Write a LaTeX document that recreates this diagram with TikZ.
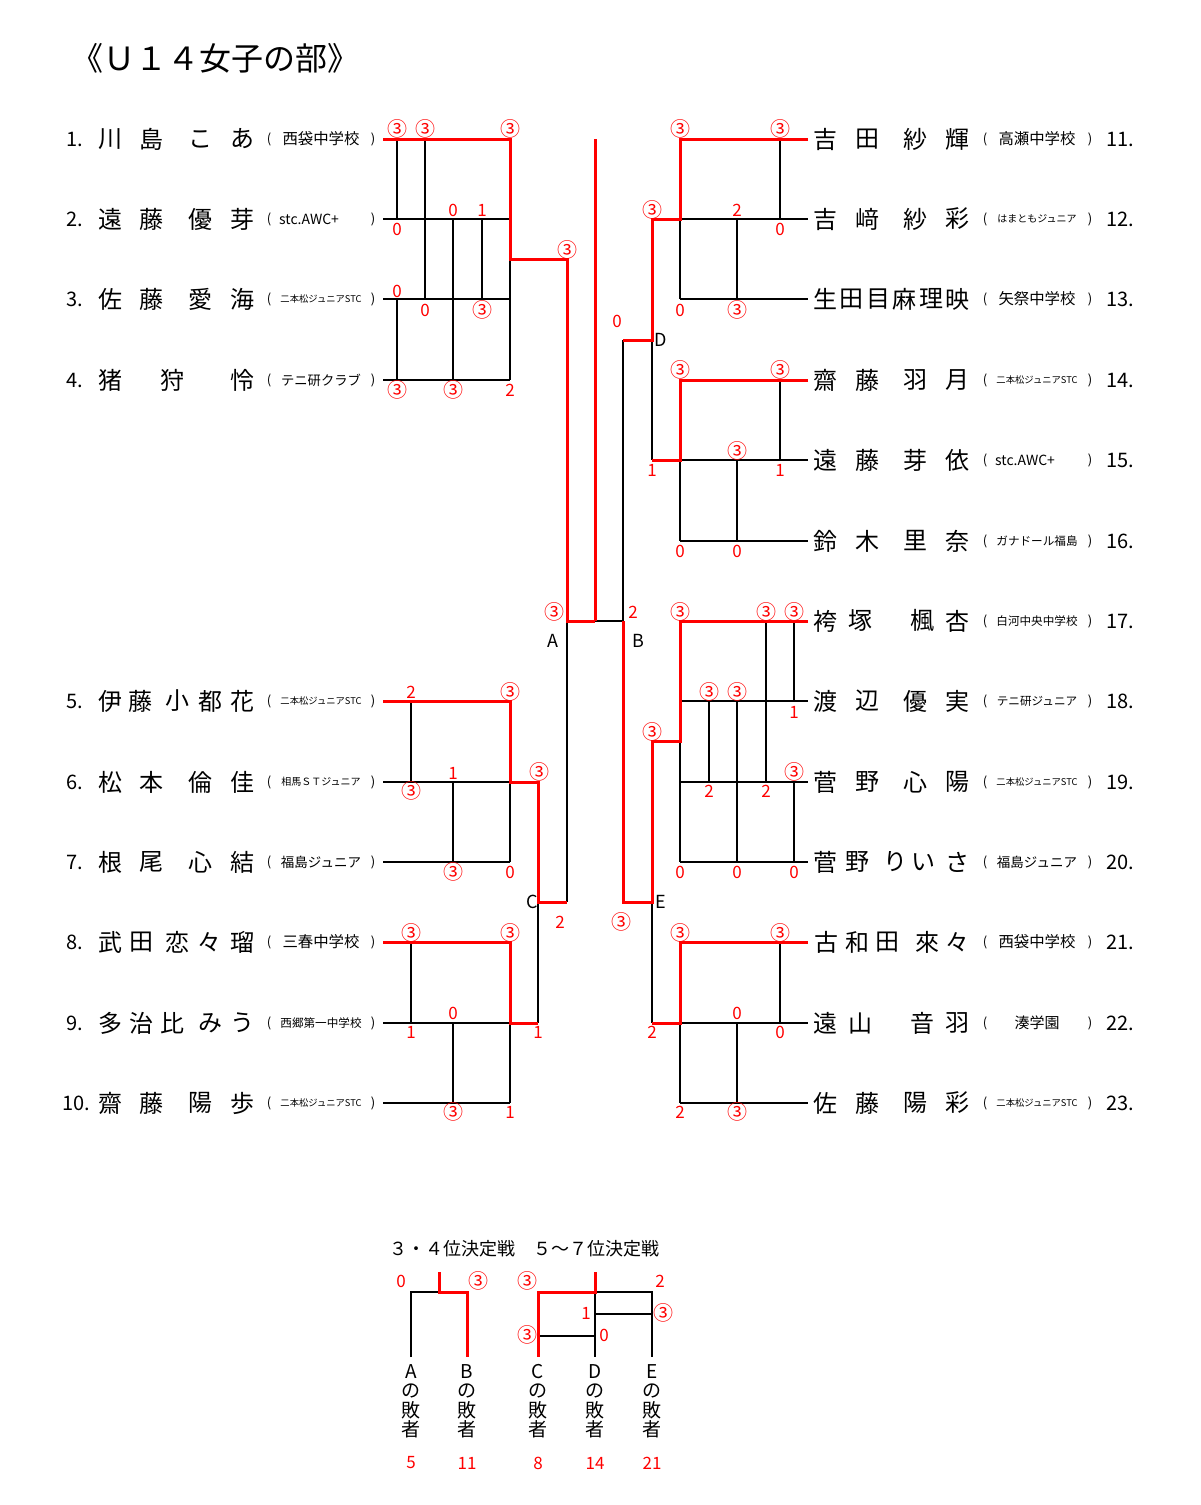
\documentclass[tikz,border=0pt]{standalone}
\usepackage{fontspec}
\setmainfont{Noto Sans CJK JP}
\newcommand\ci{{\fontsize{20}{20}\selectfont ③}}
\begin{document}
\begin{tikzpicture}[x=1pt,y=-1pt,
  blk/.style={line width=1.4pt,black},
  win/.style={line width=3pt,red,line join=miter},
  sc/.style={red,inner sep=0pt,font=\fontsize{17}{17}\selectfont},
  lt/.style={black,inner sep=0pt,font=\fontsize{18}{18}\selectfont},
  nm/.style={inner sep=0pt,font=\fontsize{24}{24}\selectfont},
  num/.style={inner sep=0pt,anchor=west,font=\fontsize{20}{20}\selectfont},
  par/.style={inner sep=0pt,font=\fontsize{13}{13}\selectfont},
  vt/.style={inner sep=0pt,font=\fontsize{19}{19}\selectfont},
  rk/.style={red,inner sep=0pt,font=\fontsize{17}{17}\selectfont}]
\useasboundingbox (0,0) rectangle (1200,1505);
\fill[white] (0,0) rectangle (1200,1505);

% ---------- named rows and columns ----------
\foreach \i/\yy in {1/139,2/219,3/299,4/380,5/701,6/782,7/862,8/942,9/1023,10/1103,
  11/139,12/219,13/299,14/380,15/460,16/541,17/621,18/701,19/782,20/862,21/942,22/1023,23/1103}
  {\coordinate (r\i) at (0,\yy);}
\coordinate (yA) at (0,259);
\coordinate (yD) at (0,340);
\coordinate (yF) at (0,621);
\coordinate (yE) at (0,741);
\coordinate (yC) at (0,902);
\foreach \yy in {1272,1292,1314,1336,1357} {\coordinate (b\yy) at (0,\yy);}
\foreach \xx in {383,397,411,425,439,453,467,482,510,538,567,595,623,652,680,709,737,766,780,794,808}
  {\coordinate (c\xx) at (\xx,0);}

% ---------- macros for texts ----------
\newcommand\NM[2]{\foreach \xx/\ch in {#2}{\node[nm] (nm-#1-\xx) at (\xx,#1) {\ch};}}
\newcommand\SCH[4]{\node[inner sep=0pt,font=\fontsize{#3}{#3}\selectfont] (sch-#1) at (#2,#1) {#4};}
\newcommand\SCW[3]{\node[inner sep=0pt,anchor=west,font=\fontsize{14}{14}\selectfont] (sch-#1) at (#2,#1) {#3};}
\newcommand\LP[1]{\node[par] (lpa-#1) at (269,#1) {(}; \node[par] (lpb-#1) at (373,#1) {)};}
\newcommand\RP[1]{\node[par] (rpa-#1) at (985,#1) {(}; \node[par] (rpb-#1) at (1090,#1) {)};}
\newcommand\scr[3]{\node[sc] (s-#1-#2) at (#1,#2) {#3};}

% ---------- title ----------
\node[anchor=west,inner sep=0pt,font=\fontsize{32}{32}\selectfont] (title) at (71,58) {《Ｕ１４女子の部》};

% ---------- left names ----------
\node[num] (n1) at (66,139) {1.};
\NM{139}{110/川,151/島,200/こ,242/あ}
\LP{139}\SCH{139}{321}{15.4}{西袋中学校}
\node[num] (n2) at (66,219) {2.};
\NM{219}{110/遠,151/藤,200/優,242/芽}
\LP{219}\SCW{219}{279}{stc.AWC+}
\node[num] (n3) at (66,299) {3.};
\NM{299}{110/佐,151/藤,200/愛,242/海}
\LP{299}\SCH{299}{321}{9.3}{二本松ジュニアSTC}
\node[num] (n4) at (66,380) {4.};
\NM{380}{110/猪,172/狩,242/怜}
\LP{380}\SCH{380}{321}{13.3}{テニ研クラブ}
\node[num] (n5) at (66,701) {5.};
\NM{701}{110/伊,140/藤,177/小,210/都,242/花}
\LP{701}\SCH{701}{321}{9.3}{二本松ジュニアSTC}
\node[num] (n6) at (66,782) {6.};
\NM{782}{110/松,151/本,200/倫,242/佳}
\LP{782}\SCH{782}{321}{10}{相馬ＳＴジュニア}
\node[num] (n7) at (66,862) {7.};
\NM{862}{110/根,151/尾,200/心,242/結}
\LP{862}\SCH{862}{321}{13.5}{福島ジュニア}
\node[num] (n8) at (66,942) {8.};
\NM{942}{110/武,141/田,177/恋,209/々,242/瑠}
\LP{942}\SCH{942}{321}{15.4}{三春中学校}
\node[num] (n9) at (66,1023) {9.};
\NM{1023}{110/多,141/治,172/比,210/み,242/う}
\LP{1023}\SCH{1023}{321}{11.6}{西郷第一中学校}
\node[num] (n10) at (62,1103) {10.};
\NM{1103}{110/齋,151/藤,200/陽,242/歩}
\LP{1103}\SCH{1103}{321}{9.3}{二本松ジュニアSTC}

% ---------- right names ----------
\NM{139}{825/吉,867/田,915/紗,957/輝}
\RP{139}\SCH{139}{1037}{15.4}{高瀬中学校}\node[num] (n11) at (1106,139) {11.};
\NM{219}{825/吉,867/﨑,915/紗,957/彩}
\RP{219}\SCH{219}{1037}{10}{はまともジュニア}\node[num] (n12) at (1106,219) {12.};
\NM{299}{825/生,851/田,878/目,904/麻,931/理,957/映}
\RP{299}\SCH{299}{1037}{15.4}{矢祭中学校}\node[num] (n13) at (1106,299) {13.};
\NM{380}{825/齋,867/藤,915/羽,957/月}
\RP{380}\SCH{380}{1037}{9.3}{二本松ジュニアSTC}\node[num] (n14) at (1106,380) {14.};
\NM{460}{825/遠,867/藤,915/芽,957/依}
\RP{460}\SCW{460}{995}{stc.AWC+}\node[num] (n15) at (1106,460) {15.};
\NM{541}{825/鈴,867/木,915/里,957/奈}
\RP{541}\SCH{541}{1037}{11.6}{ガナドール福島}\node[num] (n16) at (1106,541) {16.};
\NM{621}{825/袴,860/塚,922/楓,957/杏}
\RP{621}\SCH{621}{1037}{11.6}{白河中央中学校}\node[num] (n17) at (1106,621) {17.};
\NM{701}{825/渡,867/辺,915/優,957/実}
\RP{701}\SCH{701}{1037}{11.6}{テニ研ジュニア}\node[num] (n18) at (1106,701) {18.};
\NM{782}{825/菅,867/野,915/心,957/陽}
\RP{782}\SCH{782}{1037}{9.3}{二本松ジュニアSTC}\node[num] (n19) at (1106,782) {19.};
\NM{862}{825/菅,857/野,895/り,923/い,957/さ}
\RP{862}\SCH{862}{1037}{13.5}{福島ジュニア}\node[num] (n20) at (1106,862) {20.};
\NM{942}{826/古,857/和,887/田,927/來,957/々}
\RP{942}\SCH{942}{1037}{15.4}{西袋中学校}\node[num] (n21) at (1106,942) {21.};
\NM{1023}{825/遠,860/山,922/音,957/羽}
\RP{1023}\SCH{1023}{1037}{15}{湊学園}\node[num] (n22) at (1106,1023) {22.};
\NM{1103}{825/佐,867/藤,915/陽,957/彩}
\RP{1103}\SCH{1103}{1037}{9.3}{二本松ジュニアSTC}\node[num] (n23) at (1106,1103) {23.};

% ---------- black lines ----------
% group 1-4
\draw[blk] (c383|-r2) -- (c510|-r2);
\draw[blk] (c383|-r3) -- (c510|-r3);
\draw[blk] (c383|-r4) -- (c510|-r4);
\draw[blk] (c397|-r1) -- (c397|-r2);
\draw[blk] (c425|-r1) -- (c425|-r3);
\draw[blk] (c453|-r2) -- (c453|-r4);
\draw[blk] (c482|-r2) -- (c482|-r3);
\draw[blk] (c397|-r3) -- (c397|-r4);
\draw[blk] (c510|-yA) -- (c510|-r4);
% group 5-7
\draw[blk] (c383|-r6) -- (c510|-r6);
\draw[blk] (c383|-r7) -- (c510|-r7);
\draw[blk] (c411|-r5) -- (c411|-r6);
\draw[blk] (c453|-r6) -- (c453|-r7);
\draw[blk] (c510|-r6) -- (c510|-r7);
% group 8-10
\draw[blk] (c383|-r9) -- (c510|-r9);
\draw[blk] (c383|-r10) -- (c510|-r10);
\draw[blk] (c411|-r8) -- (c411|-r9);
\draw[blk] (c453|-r9) -- (c453|-r10);
\draw[blk] (c510|-r9) -- (c510|-r10);
% group 11-13
\draw[blk] (c680|-r12) -- (c808|-r12);
\draw[blk] (c680|-r13) -- (c808|-r13);
\draw[blk] (c780|-r11) -- (c780|-r12);
\draw[blk] (c680|-r12) -- (c680|-r13);
\draw[blk] (c737|-r12) -- (c737|-r13);
% group 14-16
\draw[blk] (c680|-r15) -- (c808|-r15);
\draw[blk] (c680|-r16) -- (c808|-r16);
\draw[blk] (c780|-r14) -- (c780|-r15);
\draw[blk] (c680|-r15) -- (c680|-r16);
\draw[blk] (c737|-r15) -- (c737|-r16);
% group 17-20
\draw[blk] (c680|-r18) -- (c808|-r18);
\draw[blk] (c680|-r19) -- (c808|-r19);
\draw[blk] (c680|-r20) -- (c808|-r20);
\draw[blk] (c680|-yE) -- (c680|-r20);
\draw[blk] (c709|-r18) -- (c709|-r19);
\draw[blk] (c737|-r18) -- (c737|-r20);
\draw[blk] (c766|-r17) -- (c766|-r19);
\draw[blk] (c794|-r17) -- (c794|-r18);
\draw[blk] (c794|-r19) -- (c794|-r20);
% group 21-23
\draw[blk] (c680|-r22) -- (c808|-r22);
\draw[blk] (c680|-r23) -- (c808|-r23);
\draw[blk] (c680|-r22) -- (c680|-r23);
\draw[blk] (c780|-r21) -- (c780|-r22);
\draw[blk] (c737|-r22) -- (c737|-r23);
% knockout
\draw[blk] (c595|-yF) -- (c623|-yF);
\draw[blk] (c567|-yF) -- (c567|-yC);
\draw[blk] (c623|-yD) -- (c623|-yF);
\draw[blk] (c652|-yD) -- (c652|-r15);
\draw[blk] (c652|-yC) -- (c652|-r22);
\draw[blk] (c538|-yC) -- (c538|-r9);

% ---------- red winner paths ----------
\draw[win] (c383|-r1) -- (c510|-r1) -- (c510|-yA) -- (c567|-yA) -- (c567|-yF) -- (c595|-yF);
\draw[win] (c595|-r1) -- (c595|-yF);
\draw[win] (c383|-r5) -- (c510|-r5) -- (c510|-r6) -- (c538|-r6) -- (c538|-yC) -- (c567|-yC);
\draw[win] (c383|-r8) -- (c510|-r8) -- (c510|-r9) -- (c538|-r9);
\draw[win] (c808|-r11) -- (c680|-r11) -- (c680|-r12) -- (c652|-r12) -- (c652|-yD) -- (c623|-yD);
\draw[win] (c808|-r14) -- (c680|-r14) -- (c680|-r15) -- (c652|-r15);
\draw[win] (c808|-r17) -- (c680|-r17) -- (c680|-yE) -- (c652|-yE) -- (c652|-yC) -- (c623|-yC) -- (c623|-yF);
\draw[win] (c808|-r21) -- (c680|-r21) -- (c680|-r22) -- (c652|-r22);

% ---------- scores ----------
% group 1-4
\scr{397}{129}{\ci}\scr{425}{129}{\ci}\scr{510}{129}{\ci}
\scr{397}{229}{0}\scr{453}{210}{0}\scr{482}{210}{1}
\scr{567}{250}{\ci}
\scr{397}{291}{0}\scr{425}{310}{0}\scr{482}{310}{\ci}
\scr{397}{390}{\ci}\scr{453}{390}{\ci}\scr{510}{390}{2}
% group 5-7
\scr{411}{692}{2}\scr{510}{692}{\ci}\scr{411}{791}{\ci}\scr{453}{773}{1}
\scr{539}{772}{\ci}\scr{453}{872}{\ci}\scr{510}{872}{0}
% group 8-10
\scr{411}{933}{\ci}\scr{510}{933}{\ci}\scr{411}{1032}{1}\scr{453}{1013}{0}
\scr{538}{1032}{1}\scr{453}{1112}{\ci}\scr{510}{1112}{1}
% knockout
\scr{554}{612}{\ci}\scr{633}{612}{2}\scr{617}{321}{0}
\scr{560}{922}{2}\scr{621}{922}{\ci}
\scr{652}{210}{\ci}\scr{652}{470}{1}\scr{652}{732}{\ci}\scr{652}{1032}{2}
\node[lt] (lA) at (553,641) {A};
\node[lt] (lB) at (638,641) {B};
\node[lt] (lC) at (532,902) {C};
\node[lt] (lD) at (661,340) {D};
\node[lt] (lE) at (661,902) {E};
% group 11-13
\scr{680}{129}{\ci}\scr{780}{129}{\ci}\scr{737}{210}{2}\scr{780}{229}{0}
\scr{680}{310}{0}\scr{737}{310}{\ci}
% group 14-16
\scr{680}{370}{\ci}\scr{780}{370}{\ci}\scr{737}{451}{\ci}\scr{780}{470}{1}
\scr{680}{551}{0}\scr{737}{551}{0}
% group 17-20
\scr{680}{612}{\ci}\scr{766}{612}{\ci}\scr{794}{612}{\ci}
\scr{709}{692}{\ci}\scr{737}{692}{\ci}\scr{794}{712}{1}
\scr{709}{791}{2}\scr{766}{791}{2}\scr{794}{772}{\ci}
\scr{680}{872}{0}\scr{737}{872}{0}\scr{794}{872}{0}
% group 21-23
\scr{680}{933}{\ci}\scr{780}{933}{\ci}\scr{737}{1013}{0}\scr{780}{1032}{0}
\scr{680}{1112}{2}\scr{737}{1112}{\ci}

% ---------- placement matches ----------
\node[anchor=west,inner sep=0pt,font=\fontsize{18}{18}\selectfont] (sub) at (389,1249) {３・４位決定戦　５〜７位決定戦};
\draw[blk] (c411|-b1357) -- (c411|-b1292) -- (c439|-b1292);
\draw[win] (c439|-b1272) -- (c439|-b1292) -- (c467|-b1292) -- (c467|-b1357);
\draw[blk] (c595|-b1292) -- (c652|-b1292) -- (c652|-b1357);
\draw[blk] (c595|-b1292) -- (c595|-b1357);
\draw[blk] (c595|-b1314) -- (c652|-b1314);
\draw[blk] (c538|-b1336) -- (c595|-b1336);
\draw[win] (c595|-b1272) -- (c595|-b1292) -- (c538|-b1292) -- (c538|-b1357);
\scr{401}{1281}{0}\scr{478}{1281}{\ci}
\scr{527}{1281}{\ci}\scr{660}{1281}{2}\scr{586}{1313}{1}\scr{663}{1313}{\ci}
\scr{527}{1335}{\ci}\scr{604}{1335}{0}
\foreach \xx/\L/\rk in {411/A/5,467/B/11,538/C/8,595/D/14,652/E/21}{
  \node[vt] (v1-\xx) at (\xx,1372) {\L};
  \node[vt] (v2-\xx) at (\xx,1391) {の};
  \node[vt] (v3-\xx) at (\xx,1410) {敗};
  \node[vt] (v4-\xx) at (\xx,1429) {者};
  \node[rk] (rk-\xx) at (\xx,1463) {\rk};
}
\end{tikzpicture}
\end{document}
